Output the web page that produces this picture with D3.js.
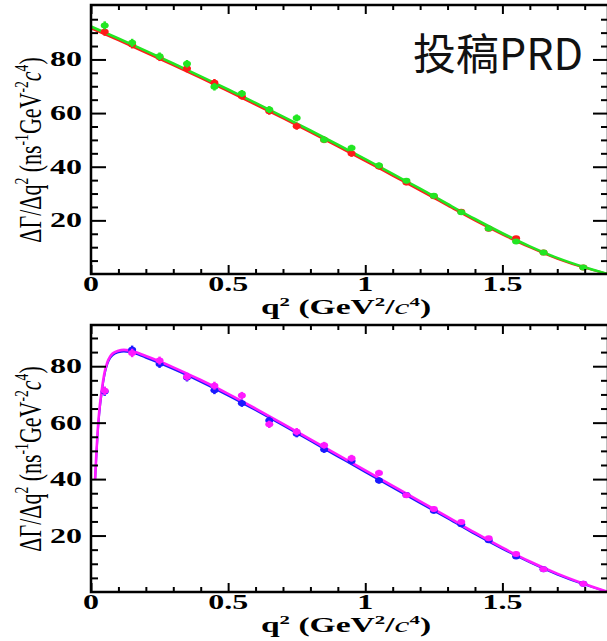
<!DOCTYPE html>
<html>
<head>
<meta charset="utf-8">
<script src="https://cdn.jsdelivr.net/npm/d3@7"></script>
<style>
  body { margin: 0; background: #fff; }
  svg { display: block; }
</style>
</head>
<body>
<script>
/* Two stacked q^2 spectra, ROOT style: inward ticks on all four sides,
   two data sets per panel with a fit curve for each. */

// bin centres of the measured points (last bin is wider)
const qBins = [0.05, 0.15, 0.25, 0.35, 0.45, 0.55, 0.65, 0.75, 0.85,
               0.95, 1.05, 1.15, 1.25, 1.35, 1.45, 1.55, 1.65, 1.795];

// upper panel points
const topRed   = [90.3, 85.6, 80.8, 76.6, 71.3, 66.3, 60.7, 55.1, 50.0,
                  44.9, 40.1, 34.1, 29.0, 23.2, 16.9, 13.3, 8.0, 2.4];
const topGreen = [92.7, 86.2, 81.2, 78.4, 69.8, 67.3, 61.3, 58.2, 50.1,
                  47.0, 40.5, 34.8, 29.2, 23.0, 17.0, 12.1, 8.0, 2.4];

// lower panel points
const botBlue    = [71.0, 85.8, 80.8, 76.0, 71.5, 66.9, 60.8, 56.1, 50.5,
                    46.4, 39.5, 34.4, 28.8, 24.0, 18.3, 12.6, 8.1, 2.9];
const botMagenta = [71.3, 84.7, 82.0, 76.3, 73.1, 69.6, 59.4, 56.8, 52.0,
                    47.4, 42.2, 34.3, 29.4, 24.8, 19.0, 13.5, 8.1, 2.9];

// statistical errors (same size for both sets)
const pointErr = [1.5, 1.5, 1.4, 1.4, 1.4, 1.3, 1.3, 1.3, 1.2,
                  1.2, 1.1, 1.0, 1.0, 0.9, 0.8, 0.8, 0.6, 0.5];

// fit curves
const topCurveQ     = [0, 0.1, 0.2, 0.3, 0.4, 0.5, 0.6, 0.7, 0.8, 0.9,
                       1.0, 1.1, 1.2, 1.3, 1.4, 1.5, 1.6, 1.7, 1.8, 1.885];
const topGreenCurve = [92.3, 87.8, 83.2, 78.5, 73.7, 68.8, 63.8, 58.7, 53.5, 48.2,
                       42.8, 37.3, 31.8, 26.1, 20.5, 15.2, 10.3, 6.0, 2.5, 0];
const topRedCurve   = [91.6, 87.1, 82.5, 77.8, 73.0, 68.1, 63.1, 58.0, 52.8, 47.5,
                       42.1, 36.6, 31.1, 25.5, 19.9, 14.7, 9.9, 5.7, 2.3, 0];

const botCurveQ       = [0.015, 0.02, 0.025, 0.03, 0.04, 0.05, 0.06, 0.07, 0.08, 0.1,
                         0.12, 0.14, 0.2, 0.3, 0.4, 0.5, 0.6, 0.7, 0.8, 0.9,
                         1.0, 1.1, 1.2, 1.3, 1.4, 1.5, 1.6, 1.7, 1.8, 1.885];
const botMagentaCurve = [40, 50, 58, 64, 72, 78, 81.5, 83.5, 84.6, 85.5,
                         85.8, 85.6, 83.6, 79.6, 75.1, 70.2, 65.0, 59.6, 54.1, 48.6,
                         43.1, 37.6, 32.1, 26.6, 21.0, 15.7, 10.8, 6.5, 2.8, 0];
const botBlueCurve    = [40, 49, 57, 63, 71.3, 77.3, 80.9, 82.9, 84.0, 84.9,
                         85.2, 85.0, 83.0, 79.0, 74.5, 69.6, 64.4, 59.0, 53.5, 48.0,
                         42.5, 37.0, 31.5, 26.1, 20.5, 15.3, 10.5, 6.2, 2.6, 0];

// tick labels
const xMajor = [0, 0.5, 1, 1.5];
const xMinor = d3.range(1, 19).filter(i => i % 5).map(i => i / 10);
const yMajor = [20, 40, 60, 80];

const width = 607, height = 641;
const serif = "'Liberation Serif', 'DejaVu Serif', serif";
const stretch = 1.6;   // the original figure is widened horizontally

const svg = d3.select("body").append("svg")
    .attr("width", width)
    .attr("height", height);

const x = d3.scaleLinear().domain([0, 1.885]).range([91, 608]);

const panels = [
  {
    top: 5, bottom: 274, yMax: 100.3, titleY: 150,
    sets: [
      {values: topRed, curveQ: topCurveQ, curve: topRedCurve, color: "#ff1a1a", width: 2},
      {values: topGreen, curveQ: topCurveQ, curve: topGreenCurve, color: "#22e622", width: 2.6}
    ]
  },
  {
    top: 325, bottom: 592, yMax: 94.6, titleY: 459,
    sets: [
      {values: botBlue, curveQ: botCurveQ, curve: botBlueCurve, color: "#1a1aff", width: 2},
      {values: botMagenta, curveQ: botCurveQ, curve: botMagentaCurve, color: "#ff1aff", width: 2.6}
    ]
  }
];

panels.forEach((p, i) => drawPanel(p, i));

// Draw one panel: frame, ticks, labels, curves and points
function drawPanel(p, idx) {
  const y = d3.scaleLinear().domain([0, p.yMax]).range([p.bottom, p.top]);
  const g = svg.append("g");
  const [x0, x1] = x.range();

  // curves and points, clipped to the frame
  const clipId = `clip${idx}`;
  g.append("clipPath").attr("id", clipId)
    .append("rect")
    .attr("x", x0).attr("y", p.top)
    .attr("width", x1 - x0).attr("height", p.bottom - p.top);

  const plot = g.append("g").attr("clip-path", `url(#${clipId})`);
  const line = d3.line()
      .x(d => x(d[0]))
      .y(d => y(d[1]))
      .curve(d3.curveMonotoneX);

  p.sets.forEach(s => {
    plot.append("path")
      .datum(d3.zip(s.curveQ, s.curve))
      .attr("fill", "none")
      .attr("stroke", s.color)
      .attr("stroke-width", s.width)
      .attr("d", line);
  });

  p.sets.forEach(s => {
    const pts = plot.append("g").selectAll("g")
      .data(d3.zip(qBins, s.values, pointErr))
      .join("g");
    pts.append("line")
      .attr("x1", d => x(d[0])).attr("x2", d => x(d[0]))
      .attr("y1", d => y(d[1] - d[2])).attr("y2", d => y(d[1] + d[2]))
      .attr("stroke", s.color)
      .attr("stroke-width", 2.5);
    pts.append("ellipse")
      .attr("cx", d => x(d[0])).attr("cy", d => y(d[1]))
      .attr("rx", 4).attr("ry", 3)
      .attr("fill", s.color);
  });

  // inward ticks on all four sides
  const yMinor = d3.range(5, p.yMax, 5).filter(v => v % 20);
  const axes = [
    {ax: d3.axisBottom(x), pos: `translate(0,${p.bottom})`, major: xMajor, minor: xMinor, len: 9, small: 5},
    {ax: d3.axisTop(x), pos: `translate(0,${p.top})`, major: xMajor, minor: xMinor, len: 9, small: 5},
    {ax: d3.axisLeft(y), pos: `translate(${x0},0)`, major: yMajor, minor: yMinor, len: 15, small: 7},
    {ax: d3.axisRight(y), pos: `translate(${x1},0)`, major: yMajor, minor: yMinor, len: 15, small: 7}
  ];
  axes.forEach(a => {
    [[a.minor, a.small], [a.major, a.len]].forEach(([vals, len]) => {
      const ag = g.append("g")
        .attr("transform", a.pos)
        .call(a.ax.tickValues(vals).tickSize(-len).tickFormat(""));
      ag.select(".domain").remove();
      ag.selectAll("line").attr("stroke", "#000").attr("stroke-width", 2);
    });
  });

  // frame
  g.append("rect")
    .attr("x", x0).attr("y", p.top)
    .attr("width", x1 - x0).attr("height", p.bottom - p.top)
    .attr("fill", "none")
    .attr("stroke", "#000")
    .attr("stroke-width", 2.5);

  // tick labels (bold, widened like the original)
  g.append("g").selectAll("text")
    .data(xMajor)
    .join("text")
    .attr("transform", d => `translate(${x(d)},${p.bottom + 17}) scale(${stretch},1)`)
    .attr("text-anchor", "middle")
    .attr("font-family", serif)
    .attr("font-weight", "bold")
    .attr("font-size", 20)
    .text(d => d3.format("~g")(d));

  g.append("g").selectAll("text")
    .data(yMajor)
    .join("text")
    .attr("transform", d => `translate(${x0 - 9},${y(d)}) scale(${stretch},1)`)
    .attr("text-anchor", "end")
    .attr("dy", "0.35em")
    .attr("font-family", serif)
    .attr("font-weight", "bold")
    .attr("font-size", 20)
    .text(d => d);

  // x title: q^2 (GeV^2/c^4)
  const xt = g.append("text")
    .attr("transform", `translate(346,${p.bottom + 40}) scale(1.68,1)`)
    .attr("text-anchor", "middle")
    .attr("font-family", serif)
    .attr("font-weight", "bold")
    .attr("font-size", 20);
  richText(xt, [["q"], ["2", "sup"], [" (GeV"], ["2", "sup"], ["/"], ["c", "it"], ["4", "sup"], [")"]], 20);

  // y title, rotated
  const yt = g.append("text")
    .attr("transform", `translate(41,${p.titleY}) scale(1.4,1) rotate(-90)`)
    .attr("text-anchor", "middle")
    .attr("font-family", serif)
    .attr("font-size", 22);
  richText(yt, [["ΔΓ/Δq"], ["2", "sup"], [" (ns"], ["-1", "sup"], ["GeV"], ["-2", "sup"],
                ["c", "it"], ["4", "sup"], [")"]], 22);
}

// Append text pieces, raising superscripts and italicising where asked
function richText(el, parts, size) {
  let raised = 0;
  parts.forEach(([t, kind]) => {
    const ts = el.append("tspan").text(t);
    const shift = kind === "sup" ? -0.42 * size : 0;
    ts.attr("dy", shift - raised);
    raised = shift;
    if (kind === "sup") ts.attr("font-size", size * 0.62);
    if (kind === "it") ts.attr("font-style", "italic").attr("font-weight", "normal");
  });
}

// note added on the figure
svg.append("text")
  .attr("x", 413)
  .attr("y", 70)
  .attr("font-family", "'Noto Sans CJK SC', sans-serif")
  .attr("font-size", 43)
  .attr("fill", "#111")
  .text("投稿PRD");
</script>
</body>
</html>
